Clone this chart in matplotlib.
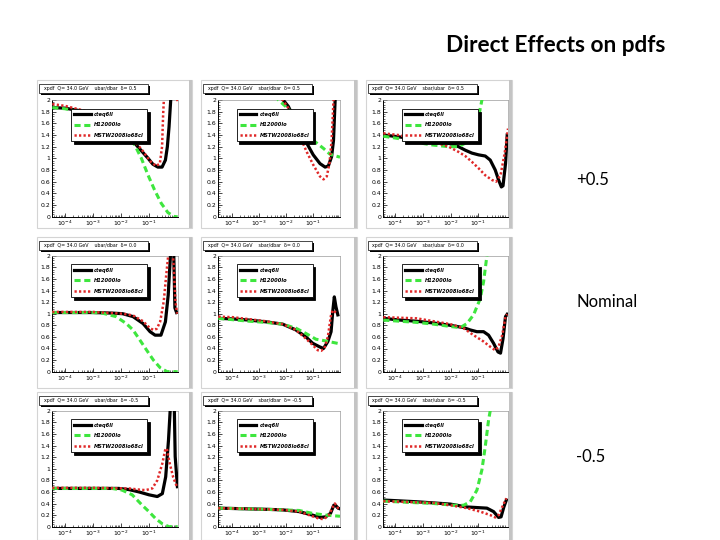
import matplotlib
matplotlib.use("Agg")
import matplotlib.pyplot as plt
from matplotlib.patches import Rectangle
from matplotlib.ticker import FixedLocator, FuncFormatter, MultipleLocator, LogLocator, NullFormatter
import numpy as np

# ---------------- data (x given as log10(x)) ----------------
SERIES_LABELS = ["cteq6ll", "H12000lo", "MSTW2008lo68cl"]
ROW_LABELS = ["+0.5", "Nominal", "-0.5"]
COL_RATIOS = ["ubar/dbar", "sbar/dbar", "sbar/ubar"]
ROW_DELTAS = ["0.5", "0.0", "-0.5"]
TITLE = "Direct Effects on pdfs"
Y_TICKS = [0, 0.2, 0.4, 0.6, 0.8, 1.0, 1.2, 1.4, 1.6, 1.8, 2.0]
X_TICKS = [1e-4, 1e-3, 1e-2, 1e-1]

# Row 1 (+0.5)
P11_CTEQ_LX = [-4.45, -4.0, -3.5, -3.0, -2.5, -2.0, -1.5, -1.26, -1.02, -0.85, -0.67, -0.52, -0.40, -0.33, -0.27, -0.21, -0.1, 0.04]
P11_CTEQ_Y = [1.87, 1.86, 1.82, 1.75, 1.62, 1.45, 1.26, 1.13, 1.0, 0.9, 0.85, 0.85, 0.97, 1.2, 1.54, 2.0, 3.0, 3.5]
P11_H1_LX = [-4.45, -4.0, -3.0, -2.0, -1.5, -1.26, -1.02, -0.79, -0.55, -0.31, -0.07, 0.04]
P11_H1_Y = [1.87, 1.85, 1.75, 1.5, 1.23, 1.0, 0.71, 0.46, 0.23, 0.07, 0.0, 0.0]
P11_MSTW_LX = [-4.45, -4.0, -3.0, -2.0, -1.5, -1.26, -1.02, -0.9, -0.73, -0.6, -0.52, -0.48, -0.45, -0.3, -0.05, 0.03]
P11_MSTW_Y = [1.93, 1.9, 1.78, 1.48, 1.28, 1.16, 1.0, 0.93, 0.87, 0.91, 1.2, 1.77, 2.05, 3.0, 2.6, 1.98]

P12_CTEQ_LX = [-4.49, -3.0, -2.5, -2.09, -1.9, -1.65, -1.41, -1.22, -0.98, -0.73, -0.54, -0.42, -0.3, -0.23, -0.17, -0.05, 0.01]
P12_CTEQ_Y = [4.5, 3.2, 2.5, 2.0, 1.89, 1.65, 1.43, 1.26, 1.06, 0.91, 0.85, 0.87, 1.03, 1.31, 2.0, 3.5, 4.0]
P12_H1_LX = [-4.49, -3.0, -2.27, -1.9, -1.6, -1.35, -0.98, -0.6, -0.36, 0.01]
P12_H1_Y = [4.0, 2.8, 2.0, 1.85, 1.65, 1.49, 1.31, 1.17, 1.07, 1.02]
P12_MSTW_LX = [-4.49, -3.0, -2.5, -2.11, -1.9, -1.65, -1.41, -1.22, -0.98, -0.73, -0.6, -0.48, -0.38, -0.3, -0.23, -0.1, 0.01]
P12_MSTW_Y = [4.5, 3.2, 2.5, 2.0, 1.86, 1.58, 1.31, 1.11, 0.89, 0.69, 0.64, 0.69, 0.91, 1.31, 2.0, 3.5, 4.0]

P13_CTEQ_LX = [-4.42, -3.88, -3.3, -2.67, -2.07, -1.71, -1.47, -1.23, -0.99, -0.75, -0.57, -0.39, -0.27, -0.17, -0.11, -0.02, 0.04]
P13_CTEQ_Y = [1.4, 1.37, 1.33, 1.3, 1.26, 1.2, 1.14, 1.09, 1.06, 1.04, 0.97, 0.8, 0.63, 0.51, 0.53, 0.91, 1.4]
P13_H1_LX = [-4.42, -3.88, -3.3, -2.67, -2.07, -1.71, -1.47, -1.23, -1.11, -0.99, -0.87, -0.7, 0.08]
P13_H1_Y = [1.38, 1.34, 1.28, 1.23, 1.2, 1.2, 1.26, 1.34, 1.49, 1.71, 2.0, 2.6, 4.0]
P13_MSTW_LX = [-4.42, -3.88, -3.3, -2.67, -2.07, -1.71, -1.47, -1.23, -0.99, -0.75, -0.51, -0.36, -0.2, -0.05, 0.07]
P13_MSTW_Y = [1.43, 1.4, 1.34, 1.29, 1.2, 1.11, 1.04, 0.94, 0.83, 0.71, 0.63, 0.6, 0.71, 1.09, 1.51]

# Row 2 (nominal)
P21_CTEQ_LX = [-4.45, -3.0, -2.29, -1.93, -1.56, -1.2, -0.95, -0.77, -0.56, -0.4, -0.3, -0.22, -0.16, -0.1, -0.06, 0.0]
P21_CTEQ_Y = [1.02, 1.02, 1.01, 1.0, 0.95, 0.83, 0.69, 0.63, 0.63, 0.86, 1.32, 2.0, 3.0, 2.0, 1.1, 1.02]
P21_H1_LX = [-4.45, -3.0, -2.66, -2.17, -1.8, -1.56, -1.32, -1.07, -0.83, -0.59, -0.34, 0.04]
P21_H1_Y = [1.02, 1.02, 1.01, 0.95, 0.83, 0.72, 0.55, 0.37, 0.2, 0.07, 0.0, 0.0]
P21_MSTW_LX = [-4.45, -3.0, -1.93, -1.56, -1.2, -0.95, -0.83, -0.71, -0.59, -0.46, -0.37, -0.3, -0.2, -0.1, -0.04, 0.02]
P21_MSTW_Y = [1.03, 1.03, 1.0, 0.97, 0.87, 0.75, 0.72, 0.74, 0.86, 1.21, 1.67, 2.0, 2.6, 1.78, 1.2, 1.0]

P22_CTEQ_LX = [-4.49, -3.96, -3.35, -2.73, -2.11, -1.62, -1.25, -1.0, -0.75, -0.6, -0.44, -0.32, -0.26, -0.2, -0.14, -0.07]
P22_CTEQ_Y = [0.92, 0.91, 0.89, 0.86, 0.82, 0.72, 0.6, 0.49, 0.43, 0.4, 0.52, 0.69, 1.03, 1.29, 1.12, 0.98]
P22_H1_LX = [-4.49, -3.35, -2.73, -2.11, -1.62, -1.25, -0.88, -0.51, 0.01]
P22_H1_Y = [0.92, 0.87, 0.85, 0.82, 0.75, 0.66, 0.56, 0.53, 0.48]
P22_MSTW_LX = [-4.49, -3.96, -2.73, -2.11, -1.62, -1.25, -1.0, -0.81, -0.69, -0.57, -0.44, -0.32, -0.26, -0.14]
P22_MSTW_Y = [0.95, 0.94, 0.87, 0.82, 0.72, 0.57, 0.46, 0.37, 0.36, 0.4, 0.6, 0.98, 1.06, 1.02]

P23_CTEQ_LX = [-4.42, -3.82, -3.22, -2.61, -2.01, -1.53, -1.29, -1.05, -0.81, -0.63, -0.45, -0.29, -0.2, -0.11, -0.02, 0.04]
P23_CTEQ_Y = [0.92, 0.89, 0.87, 0.84, 0.8, 0.76, 0.72, 0.69, 0.69, 0.63, 0.49, 0.34, 0.32, 0.57, 0.95, 0.99]
P23_H1_LX = [-4.42, -3.22, -2.61, -2.01, -1.65, -1.41, -1.17, -0.93, -0.81, -0.69, -0.5, 0.08]
P23_H1_Y = [0.89, 0.85, 0.82, 0.78, 0.76, 0.83, 0.98, 1.26, 1.55, 2.0, 2.8, 4.0]
P23_MSTW_LX = [-4.42, -3.82, -3.22, -2.61, -2.01, -1.53, -1.17, -0.81, -0.57, -0.39, -0.27, -0.14, -0.02, 0.04]
P23_MSTW_Y = [0.94, 0.93, 0.92, 0.87, 0.82, 0.75, 0.63, 0.52, 0.43, 0.37, 0.43, 0.63, 0.95, 0.99]

# Row 3 (-0.5)
P31_CTEQ_LX = [-4.45, -3.0, -2.07, -1.71, -1.35, -0.99, -0.69, -0.51, -0.39, -0.29, -0.23, -0.15, -0.08, -0.05, 0.03]
P31_CTEQ_Y = [0.66, 0.66, 0.66, 0.64, 0.6, 0.55, 0.52, 0.57, 0.86, 1.49, 2.0, 3.0, 2.0, 1.21, 0.69]
P31_H1_LX = [-4.45, -3.0, -2.31, -1.95, -1.59, -1.23, -0.99, -0.75, -0.51, -0.27, 0.04]
P31_H1_Y = [0.66, 0.66, 0.66, 0.63, 0.55, 0.37, 0.26, 0.14, 0.05, 0.0, 0.0]
P31_MSTW_LX = [-4.45, -3.0, -1.71, -1.35, -1.11, -0.87, -0.69, -0.51, -0.41, -0.35, -0.25, -0.12, 0.02]
P31_MSTW_Y = [0.67, 0.67, 0.66, 0.64, 0.63, 0.66, 0.8, 1.09, 1.32, 1.35, 1.1, 0.85, 0.68]

P32_CTEQ_LX = [-4.49, -2.72, -2.11, -1.5, -1.01, -0.71, -0.52, -0.34, -0.22, -0.16, -0.06, 0.0]
P32_CTEQ_Y = [0.32, 0.3, 0.29, 0.26, 0.2, 0.16, 0.17, 0.23, 0.37, 0.37, 0.32, 0.31]
P32_H1_LX = [-4.49, -2.72, -1.5, -1.01, -0.52, 0.01]
P32_H1_Y = [0.32, 0.3, 0.28, 0.23, 0.2, 0.18]
P32_MSTW_LX = [-4.49, -2.72, -2.11, -1.5, -1.01, -0.77, -0.59, -0.4, -0.28, -0.18, -0.06, 0.0]
P32_MSTW_Y = [0.32, 0.3, 0.29, 0.26, 0.18, 0.14, 0.13, 0.2, 0.32, 0.4, 0.32, 0.31]

P33_CTEQ_LX = [-4.42, -3.22, -2.61, -2.01, -1.41, -1.05, -0.69, -0.45, -0.27, -0.18, -0.08, 0.01]
P33_CTEQ_Y = [0.46, 0.43, 0.41, 0.39, 0.34, 0.33, 0.32, 0.26, 0.16, 0.17, 0.34, 0.46]
P33_H1_LX = [-4.42, -2.61, -1.89, -1.53, -1.29, -1.05, -0.87, -0.75, -0.63, -0.57, -0.4, 0.08]
P33_H1_Y = [0.44, 0.4, 0.37, 0.37, 0.43, 0.63, 0.98, 1.38, 1.84, 2.0, 3.0, 4.5]
P33_MSTW_LX = [-4.42, -2.61, -2.01, -1.41, -0.93, -0.57, -0.39, -0.27, -0.11, 0.01]
P33_MSTW_Y = [0.44, 0.41, 0.37, 0.32, 0.26, 0.2, 0.16, 0.2, 0.37, 0.49]

PANELS = [
    [(P11_CTEQ_LX, P11_CTEQ_Y, P11_H1_LX, P11_H1_Y, P11_MSTW_LX, P11_MSTW_Y),
     (P12_CTEQ_LX, P12_CTEQ_Y, P12_H1_LX, P12_H1_Y, P12_MSTW_LX, P12_MSTW_Y),
     (P13_CTEQ_LX, P13_CTEQ_Y, P13_H1_LX, P13_H1_Y, P13_MSTW_LX, P13_MSTW_Y)],
    [(P21_CTEQ_LX, P21_CTEQ_Y, P21_H1_LX, P21_H1_Y, P21_MSTW_LX, P21_MSTW_Y),
     (P22_CTEQ_LX, P22_CTEQ_Y, P22_H1_LX, P22_H1_Y, P22_MSTW_LX, P22_MSTW_Y),
     (P23_CTEQ_LX, P23_CTEQ_Y, P23_H1_LX, P23_H1_Y, P23_MSTW_LX, P23_MSTW_Y)],
    [(P31_CTEQ_LX, P31_CTEQ_Y, P31_H1_LX, P31_H1_Y, P31_MSTW_LX, P31_MSTW_Y),
     (P32_CTEQ_LX, P32_CTEQ_Y, P32_H1_LX, P32_H1_Y, P32_MSTW_LX, P32_MSTW_Y),
     (P33_CTEQ_LX, P33_CTEQ_Y, P33_H1_LX, P33_H1_Y, P33_MSTW_LX, P33_MSTW_Y)],
]

# ---------------- layout (pixels) ----------------
W, H = 720, 540
COL_PANEL = [(37, 192), (201, 357), (366, 512)]
ROW_PANEL = [(80, 228), (237, 388), (392, 540)]
COL_AX = [(52.3, 177.7), (218.3, 340.0), (383.3, 508.3)]
ROW_AX = [(100.0, 216.7), (255.7, 371.7), (410.7, 526.7)]
COL_XLIM = [(-4.45, 0.04), (-4.49, 0.01), (-4.42, 0.08)]
ROW_LABEL_Y = [180, 302, 457]

BLACK = "#000000"
GREEN = "#3ee63e"
RED = "#e02828"

fig = plt.figure(figsize=(W / 100, H / 100), dpi=100)
fig.patch.set_facecolor("white")

bg = fig.add_axes([0, 0, 1, 1])
bg.set_xlim(0, W)
bg.set_ylim(H, 0)
bg.axis("off")

bg.text(446, 45, TITLE, fontsize=16.3, fontweight="bold", family=["Lato", "DejaVu Sans"],
        ha="left", va="center", color="black")
for lab, yy in zip(ROW_LABELS, ROW_LABEL_Y):
    bg.text(576, yy, lab, fontsize=12, family=["Lato", "DejaVu Sans"], ha="left", va="center")

yfmt = FuncFormatter(lambda v, p: "%g" % round(v, 2))
xfmt = FuncFormatter(lambda v, p: r"$10^{%d}$" % int(round(np.log10(v))))

for r in range(3):
    for c in range(3):
        x0, x1 = COL_PANEL[c]
        y0, y1 = ROW_PANEL[r]
        bg.add_patch(Rectangle((x0, y0), x1 - x0, y1 - y0, fc="white", ec="#d4d4d4", lw=0.8))
        bg.add_patch(Rectangle((x1 - 3, y0), 3, y1 - y0, fc="#c4c4c4", ec="none"))
        # title box with shadow
        tb_x, tb_y, tb_w, tb_h = x0 + 1.5, y0 + 4, 109, 8.5
        bg.add_patch(Rectangle((tb_x + 2, tb_y + 2), tb_w, tb_h, fc="black", ec="none"))
        bg.add_patch(Rectangle((tb_x, tb_y), tb_w, tb_h, fc="white", ec="black", lw=0.5))
        bg.text(tb_x + 5, tb_y + tb_h / 2,
                "xpdf  Q= 34.0 GeV    %s  \u03b4= %s" % (COL_RATIOS[c], ROW_DELTAS[r]),
                fontsize=3.4, ha="left", va="center")

        xl, xr = COL_AX[c]
        yt, yb = ROW_AX[r]
        ax = fig.add_axes([xl / W, 1 - yb / H, (xr - xl) / W, (yb - yt) / H])
        ax.set_facecolor("white")
        ax.set_xscale("log")
        lo, hi = COL_XLIM[c]
        ax.set_xlim(10 ** lo, 10 ** hi)
        ax.set_ylim(0, 2)

        clx, cy, hlx, hy, mlx, my = PANELS[r][c]
        l1, = ax.plot(10 ** np.array(clx), cy, color=BLACK, lw=2.3, solid_joinstyle="round",
                      label=SERIES_LABELS[0], zorder=3)
        l2, = ax.plot(10 ** np.array(hlx), hy, color=GREEN, lw=2.2, linestyle=(0, (2.0, 1.2)),
                      label=SERIES_LABELS[1], zorder=4)
        l3, = ax.plot(10 ** np.array(mlx), my, color=RED, lw=1.8, linestyle=(0, (0.9, 0.9)),
                      label=SERIES_LABELS[2], zorder=5)

        ax.yaxis.set_major_locator(FixedLocator(Y_TICKS))
        ax.yaxis.set_minor_locator(MultipleLocator(0.04))
        ax.yaxis.set_major_formatter(yfmt)
        ax.xaxis.set_major_locator(FixedLocator(X_TICKS))
        ax.xaxis.set_minor_locator(LogLocator(base=10, subs=np.arange(2, 10)))
        ax.xaxis.set_major_formatter(xfmt)
        ax.xaxis.set_minor_formatter(NullFormatter())
        ax.tick_params(which="major", direction="in", length=3, width=0.5, labelsize=4.4, pad=1.5)
        ax.tick_params(which="minor", direction="in", length=1.5, width=0.4)
        for s in ("left", "bottom"):
            ax.spines[s].set_linewidth(0.7)
            ax.spines[s].set_color("black")
        for s in ("top", "right"):
            ax.spines[s].set_linewidth(0.5)
            ax.spines[s].set_color("#9a9a9a")

        leg = ax.legend(handles=[l1, l2, l3], loc="upper left", bbox_to_anchor=(0.15, 0.925),
                        borderaxespad=0, handlelength=3.2, handletextpad=0.6,
                        labelspacing=1.05, borderpad=0.65, frameon=True, fancybox=False,
                        edgecolor="black", framealpha=1,
                        shadow={"color": "black", "alpha": 1.0},
                        prop={"size": 3.7, "style": "italic", "weight": "bold"})
        leg.get_frame().set_linewidth(0.6)
        leg.set_zorder(10)

fig.savefig("out.png", dpi=100, facecolor="white")
